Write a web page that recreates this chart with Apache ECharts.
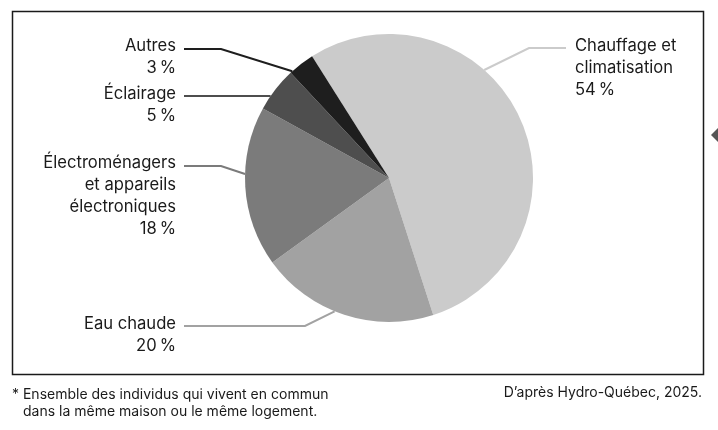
<!DOCTYPE html>
<html>
<head>
<meta charset="utf-8">
<script src="https://cdn.jsdelivr.net/npm/echarts@6/dist/echarts.min.js"></script>
<style type="text/css">
    html, body { margin: 0; padding: 0; background: #fff; }
    #chart { width: 718px; height: 430px; }
</style>
</head>
<body>
<div id="chart"></div>
<script type="text/javascript">
// données (ordre horaire depuis le haut)
var categories = ['Chauffage et\nclimatisation', 'Eau chaude', 'Électroménagers\net appareils\nélectroniques', 'Éclairage', 'Autres'];
var values = [54, 20, 18, 5, 3];
var sliceColors = ['#cbcbcb', '#a2a2a2', '#7b7b7b', '#4e4e4e', '#1e1e1e'];
var footnoteLines = ['* Ensemble des individus qui vivent en commun', 'dans la même maison ou le même logement.'];
var sourceText = 'D’après Hydro-Québec, 2025.';

var cx = 389, cy = 178, r = 144;
var font = 'Inter, "Liberation Sans", sans-serif';

// placement des étiquettes (angle du point d'attache sur le cercle, coude, fin du trait)
var labelSpots = [
    {x: 575, y: 35, align: 'left', anchor: 48.6, elbow: [529, 48], end: [566, 48]},
    {x: 176, y: 313, align: 'right', anchor: 247.8, elbow: [305, 326], end: [184, 326]},
    {x: 176, y: 152, align: 'right', anchor: 178.4, elbow: [221, 166], end: [184, 166]},
    {x: 176, y: 83, align: 'right', anchor: 145.3, elbow: null, end: [184, 96]},
    {x: 176, y: 35, align: 'right', anchor: 132.2, elbow: [221, 49], end: [184, 49]}
];

function onCircle(deg) {
    var a = deg * Math.PI / 180;
    return [cx + r * Math.cos(a), cy - r * Math.sin(a)];
}

var chart = echarts.init(document.getElementById('chart'), null, {renderer: 'canvas'});

var pieData = categories.map(function (name, i) {
    return {name: name, value: values[i], itemStyle: {color: sliceColors[i]}};
});

var option = {
    animation: false,
    backgroundColor: '#fff',
    series: [{
        type: 'pie',
        center: [cx, cy],
        radius: r,
        startAngle: 122.3,
        clockwise: true,
        data: pieData,
        itemStyle: {borderWidth: 0},
        label: {
            show: true,
            fontFamily: font,
            fontSize: 16.6,
            lineHeight: 22,
            color: '#1a1a1a',
            formatter: function (p) {
                return p.name + '\n' + p.value + '\u202F%';
            }
        },
        labelLine: {
            show: true,
            lineStyle: {width: 2}
        },
        labelLayout: function (params) {
            var s = labelSpots[params.dataIndex];
            var a = onCircle(s.anchor);
            var pts = s.elbow ? [a, s.elbow, s.end] : [a, [s.end[0] + 40, a[1]], [s.end[0], a[1]]];
            return {
                x: s.x,
                y: s.y,
                align: s.align,
                verticalAlign: 'top',
                labelLinePoints: pts
            };
        }
    }],
    graphic: [
        {
            type: 'rect',
            shape: {x: 12.5, y: 11.5, width: 691, height: 363},
            style: {fill: 'none', stroke: '#1a1a1a', lineWidth: 1.5},
            silent: true
        },
        {
            type: 'polygon',
            shape: {points: [[711, 135], [718, 128], [718, 142]]},
            style: {fill: '#555'},
            silent: true
        },
        {
            type: 'text',
            left: 12, top: 388,
            style: {text: footnoteLines[0], font: '14px ' + font, fill: '#1a1a1a'}
        },
        {
            type: 'text',
            left: 23, top: 405,
            style: {text: footnoteLines[1], font: '14px ' + font, fill: '#1a1a1a'}
        },
        {
            type: 'text',
            right: 16, top: 386,
            style: {text: sourceText, font: '14px ' + font, fill: '#1a1a1a'}
        }
    ]
};

chart.setOption(option);
window.onresize = function () {
    chart.resize();
};
</script>
</body>
</html>
